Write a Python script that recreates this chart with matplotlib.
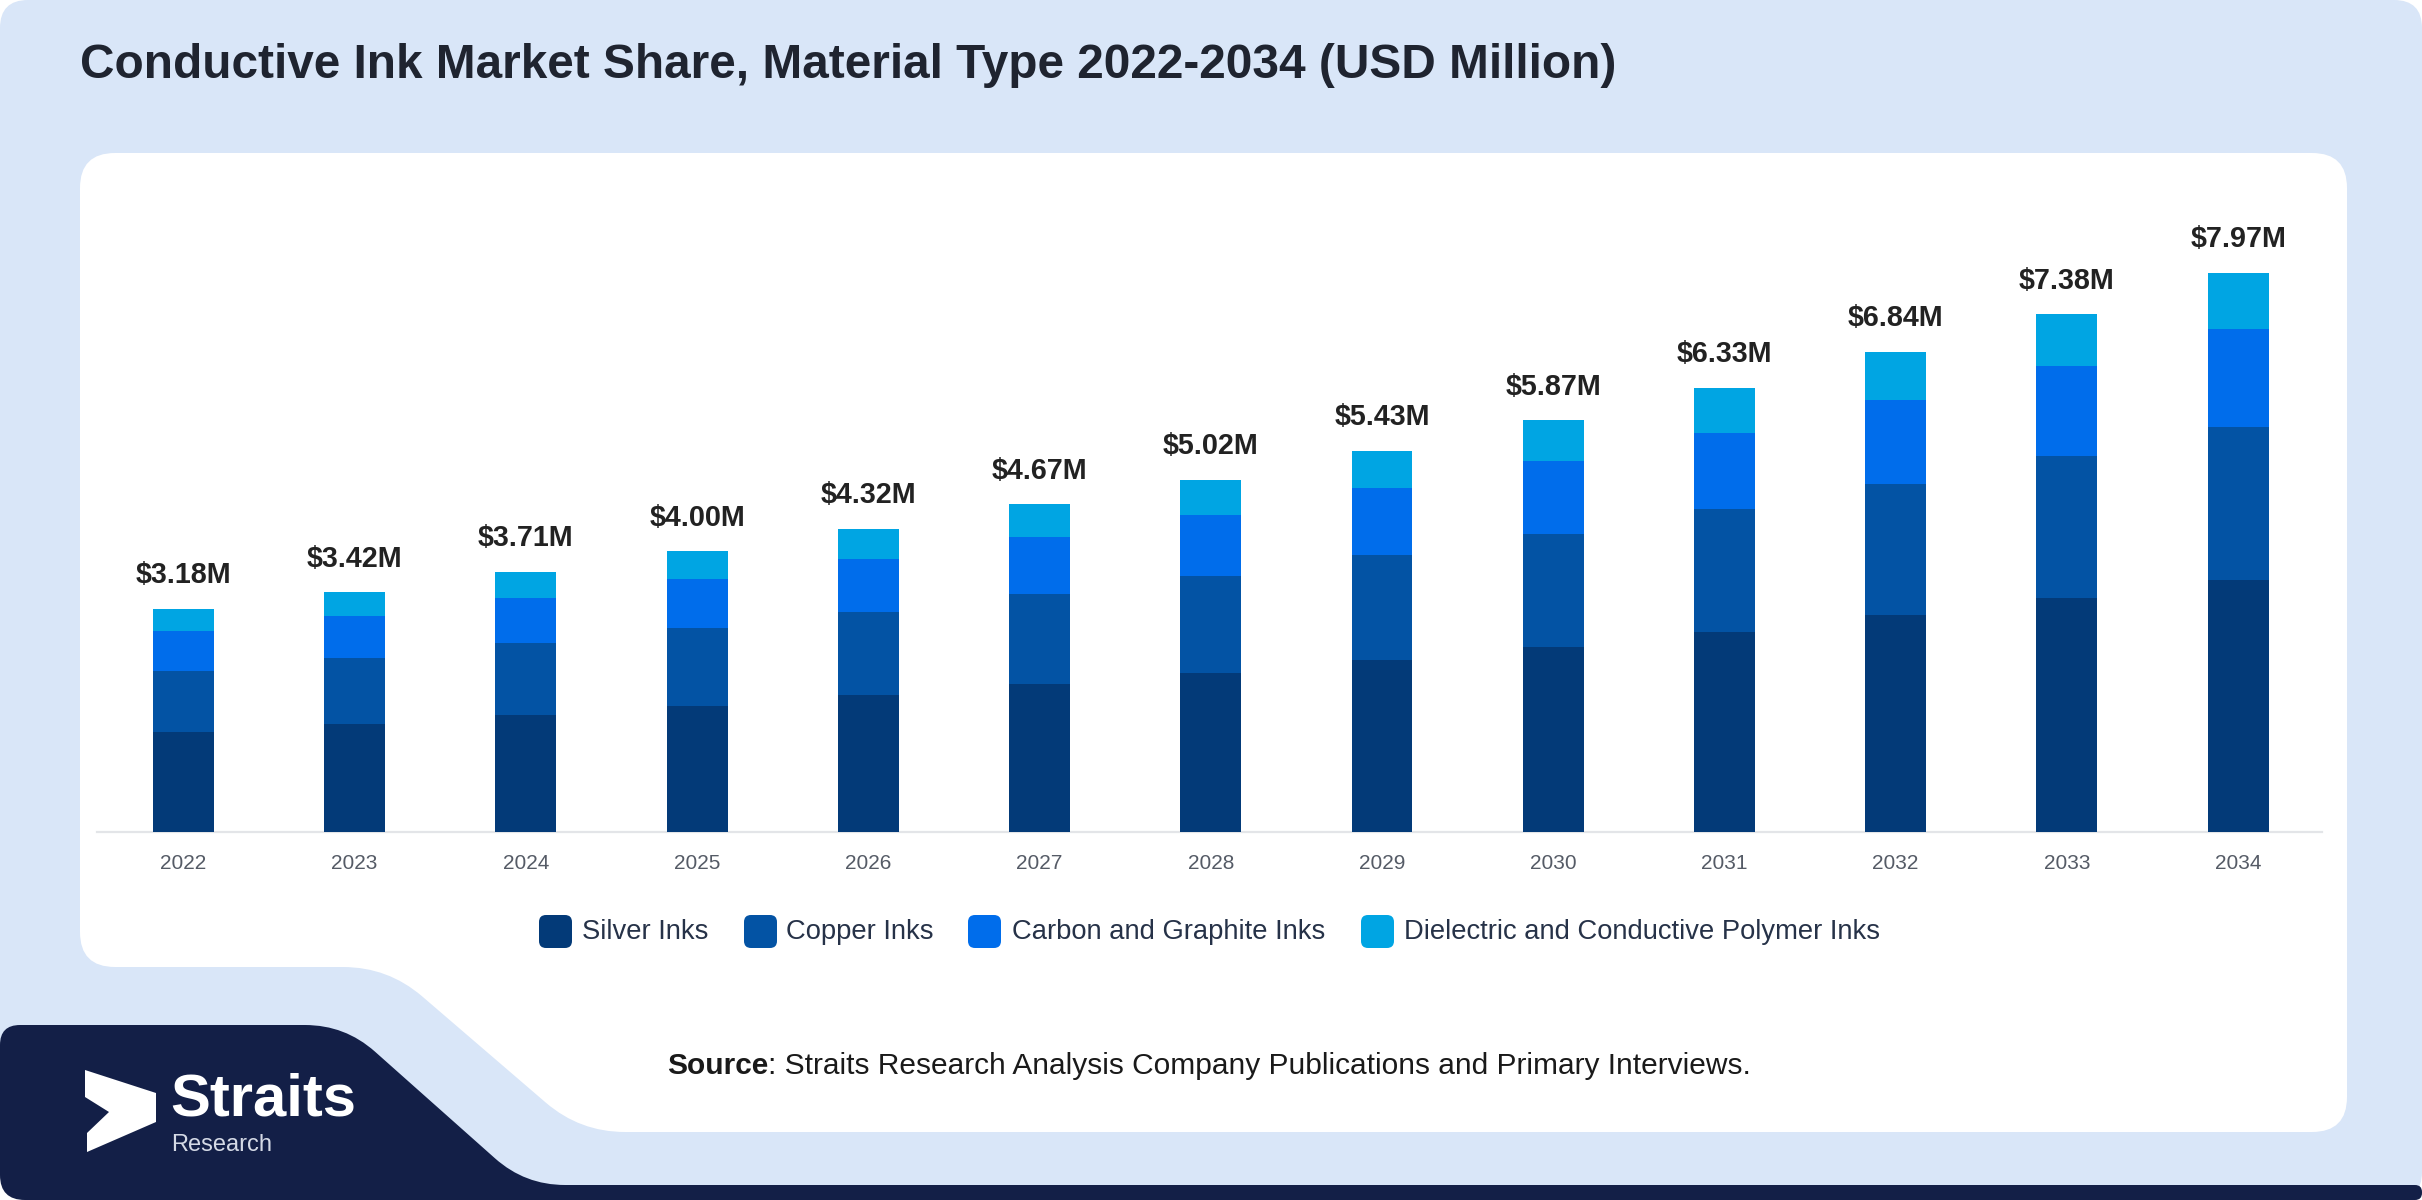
import numpy as np
import matplotlib
matplotlib.use('Agg')
import matplotlib.pyplot as plt
from matplotlib.path import Path
from matplotlib.patches import PathPatch, FancyBboxPatch, Polygon

plt.rcParams['font.family'] = ['Liberation Sans', 'DejaVu Sans']

# data (USD million)
years = ['2022', '2023', '2024', '2025', '2026', '2027', '2028',
         '2029', '2030', '2031', '2032', '2033', '2034']
silver = [1.43, 1.54, 1.67, 1.80, 1.95, 2.11, 2.27, 2.45, 2.64, 2.85, 3.09, 3.33, 3.59]
copper = [0.87, 0.94, 1.02, 1.10, 1.18, 1.28, 1.37, 1.49, 1.61, 1.75, 1.87, 2.02, 2.18]
carbon = [0.56, 0.60, 0.65, 0.70, 0.76, 0.81, 0.88, 0.96, 1.03, 1.09, 1.20, 1.29, 1.40]
dielectric = [0.32, 0.34, 0.37, 0.40, 0.43, 0.47, 0.50, 0.53, 0.59, 0.64, 0.68, 0.74, 0.80]
series_names = ['Silver Inks', 'Copper Inks', 'Carbon and Graphite Inks',
                'Dielectric and Conductive Polymer Inks']
series_colors = ['#033a78', '#0353a4', '#006deb', '#00a5e3']

W, H = 2422, 1200
fig = plt.figure(figsize=(W / 100, H / 100), dpi=100)
fig.patch.set_facecolor('white')

# background layer in pixel coordinates (y going down)
bg = fig.add_axes([0, 0, 1, 1])
bg.set_xlim(0, W)
bg.set_ylim(H, 0)
bg.axis('off')


def rounded_path(pts, radii):
    verts, codes = [], []
    n = len(pts)
    for i in range(n):
        p0 = np.array(pts[i - 1], float)
        p1 = np.array(pts[i], float)
        p2 = np.array(pts[(i + 1) % n], float)
        d1 = (p0 - p1) / np.linalg.norm(p0 - p1)
        d2 = (p2 - p1) / np.linalg.norm(p2 - p1)
        a = p1 + d1 * radii[i]
        b = p1 + d2 * radii[i]
        verts.append(a)
        codes.append(Path.MOVETO if i == 0 else Path.LINETO)
        verts += [p1, b]
        codes += [Path.CURVE3, Path.CURVE3]
    verts.append(verts[0])
    codes.append(Path.CLOSEPOLY)
    return Path(verts, codes)


light = rounded_path([(0, 0), (W, 0), (W, H), (0, H)], [28, 28, 28, 28])
bg.add_patch(PathPatch(light, facecolor='#d9e6f8', edgecolor='none'))

panel = rounded_path([(80, 153), (2347, 153), (2347, 1132), (580, 1132), (388, 967), (80, 967)],
                     [35, 35, 35, 45, 45, 35])
bg.add_patch(PathPatch(panel, facecolor='white', edgecolor='none'))

navy = rounded_path([(0, 1025), (345, 1025), (525, 1185), (W, 1185), (W, H), (0, H)],
                    [20, 40, 40, 7, 7, 25])
bg.add_patch(PathPatch(navy, facecolor='#131f47', edgecolor='none'))

# logo
bg.add_patch(Polygon([(85, 1070), (156, 1093), (156, 1122), (87, 1152),
                      (87, 1133), (109, 1112), (85, 1097)],
                     closed=True, facecolor='white', edgecolor='none'))
bg.text(170, 1116, 'Straits', color='white', fontsize=43, fontweight='bold',
        ha='left', va='baseline')
bg.text(171, 1145, 'Research', color='#d5dae6', fontsize=17, ha='left', va='center')

# title
bg.text(80, 65, 'Conductive Ink Market Share, Material Type 2022-2034 (USD Million)',
        fontsize=34.4, fontweight='bold', color='#1f2430', ha='left', va='center')

# source line
src = bg.text(667, 1066, 'Source', fontsize=21.5, fontweight='bold', color='#1a1a1a',
              ha='left', va='center')
bg.annotate(': Straits Research Analysis Company Publications and Primary Interviews.',
            xy=(1, 0), xycoords=src, fontsize=21.5, color='#1a1a1a', ha='left', va='bottom')

# legend
leg_sq_x = [539, 744, 968, 1361]
leg_txt_x = [582, 786, 1012, 1404]
for sx, tx, name, col in zip(leg_sq_x, leg_txt_x, series_names, series_colors):
    bg.add_patch(FancyBboxPatch((sx + 5, 920), 23, 23, boxstyle='round,pad=5,rounding_size=7',
                                facecolor=col, edgecolor='none'))
    bg.text(tx, 932, name, fontsize=19.7, color='#263248', ha='left', va='center')

# chart axes: x-axis line from px 97 to 2322, zero at y=832
ax_left, ax_right, ax_top, ax_bottom = 97, 2322, 153, 832
ax = fig.add_axes([ax_left / W, 1 - ax_bottom / H, (ax_right - ax_left) / W, (ax_bottom - ax_top) / H])
ax.set_facecolor('none')

x = np.arange(len(years))
bottom = np.zeros(len(years))
for vals, col, name in zip([silver, copper, carbon, dielectric], series_colors, series_names):
    ax.bar(x, vals, width=0.356, bottom=bottom, color=col, label=name, zorder=3)
    bottom += np.array(vals)

for i, total in enumerate(bottom):
    ax.annotate(f'${total:.2f}M', (i, total), xytext=(0, 24), textcoords='offset points',
                ha='center', va='center', fontsize=20.7, fontweight='bold', color='#222222')

ax.set_xlim(-0.505, 12.49)
ax.set_ylim(0, (ax_bottom - ax_top) / 70.2)
ax.set_xticks(x)
ax.set_xticklabels(years, fontsize=15, color='#555b66')
ax.tick_params(axis='x', length=0, pad=16)
ax.set_yticks([])
for side in ['top', 'right', 'left']:
    ax.spines[side].set_visible(False)
ax.spines['bottom'].set_color('#e3e5e8')
ax.spines['bottom'].set_linewidth(1.6)

fig.savefig('out.png', dpi=100, facecolor=fig.get_facecolor())
